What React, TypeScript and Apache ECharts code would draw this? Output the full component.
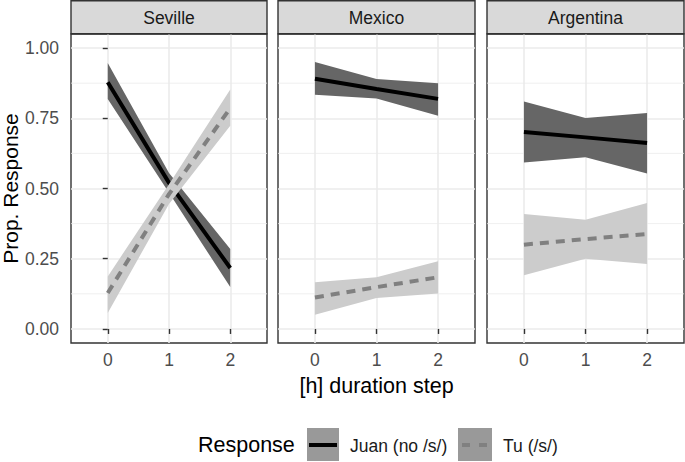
import React, { useEffect, useRef } from "react";
import * as echarts from "echarts";

const facets = ["Seville", "Mexico", "Argentina"];
const steps = [0, 1, 2];
const yTicks = [0, 0.25, 0.5, 0.75, 1];
const yMinorTicks = [0.125, 0.375, 0.625, 0.875];
const yTickLabels = ["0.00", "0.25", "0.50", "0.75", "1.00"];

// Juan (no /s/)
const sevilleJuan = [0.878, 0.52, 0.217];
const sevilleJuanLo = [0.819, 0.485, 0.149];
const sevilleJuanHi = [0.947, 0.555, 0.285];
const mexicoJuan = [0.891, 0.854, 0.819];
const mexicoJuanLo = [0.834, 0.82, 0.759];
const mexicoJuanHi = [0.95, 0.89, 0.875];
const argentinaJuan = [0.701, 0.682, 0.662];
const argentinaJuanLo = [0.593, 0.611, 0.553];
const argentinaJuanHi = [0.81, 0.751, 0.769];

// Tu (/s/)
const sevilleTu = [0.128, 0.48, 0.786];
const sevilleTuLo = [0.057, 0.445, 0.723];
const sevilleTuHi = [0.187, 0.515, 0.852];
const mexicoTu = [0.112, 0.149, 0.184];
const mexicoTuLo = [0.051, 0.11, 0.126];
const mexicoTuHi = [0.166, 0.184, 0.241];
const argentinaTu = [0.3, 0.32, 0.338];
const argentinaTuLo = [0.191, 0.25, 0.231];
const argentinaTuHi = [0.409, 0.389, 0.448];

const juanFits = [sevilleJuan, mexicoJuan, argentinaJuan];
const juanLos = [sevilleJuanLo, mexicoJuanLo, argentinaJuanLo];
const juanHis = [sevilleJuanHi, mexicoJuanHi, argentinaJuanHi];
const tuFits = [sevilleTu, mexicoTu, argentinaTu];
const tuLos = [sevilleTuLo, mexicoTuLo, argentinaTuLo];
const tuHis = [sevilleTuHi, mexicoTuHi, argentinaTuHi];

const FONT = "Liberation Sans, Arial, Helvetica, sans-serif";
const X_MIN = -0.6;
const X_MAX = 2.6;
const Y_MIN = -0.05;
const Y_MAX = 1.05;

const panels = [
  { left: 71, width: 196 },
  { left: 278, width: 197 },
  { left: 487, width: 197 },
];
const PANEL_TOP = 34;
const PANEL_H = 309;
const SMALL = 17.5;
const LARGE = 21.5;

function ribbonSeries(idx: number, lo: number[], hi: number[], fill: string, z: number) {
  return {
    type: "custom",
    xAxisIndex: idx,
    yAxisIndex: idx,
    z,
    silent: true,
    data: steps.map((s, i) => [s, lo[i], hi[i]]),
    encode: { x: 0, y: [1, 2] },
    renderItem: (params: any, api: any) => {
      if (params.dataIndex !== 0) return null;
      const pts: number[][] = [];
      for (let i = 0; i < steps.length; i++) pts.push(api.coord([steps[i], hi[i]]));
      for (let i = steps.length - 1; i >= 0; i--) pts.push(api.coord([steps[i], lo[i]]));
      return { type: "polygon", shape: { points: pts }, style: { fill } };
    },
  };
}

function minorGridSeries(idx: number) {
  return {
    type: "custom",
    xAxisIndex: idx,
    yAxisIndex: idx,
    z: 1,
    silent: true,
    data: yMinorTicks.map((v) => [0, v]),
    encode: { x: 0, y: 1 },
    renderItem: (params: any, api: any) => {
      const v = api.value(1);
      const p1 = api.coord([X_MIN, v]);
      const p2 = api.coord([X_MAX, v]);
      return {
        type: "line",
        shape: { x1: p1[0], y1: p1[1], x2: p2[0], y2: p2[1] },
        style: { stroke: "#ebebeb", lineWidth: 0.8 },
      };
    },
  };
}

export default function App() {
  const ref = useRef<HTMLDivElement>(null);

  useEffect(() => {
    if (!ref.current) return;
    const chart = echarts.init(ref.current, undefined, { renderer: "svg" });

    const grids = panels.map((p) => ({
      left: p.left,
      top: PANEL_TOP,
      width: p.width,
      height: PANEL_H,
      show: true,
      borderColor: "#333333",
      borderWidth: 1.4,
      backgroundColor: "#ffffff",
      containLabel: false,
      outerBoundsMode: "none",
    }));

    const xAxes = panels.map((p, i) => ({
      type: "value",
      gridIndex: i,
      min: X_MIN,
      max: X_MAX,
      axisLine: { show: false },
      axisTick: {
        show: true,
        length: 5,
        customValues: steps,
        lineStyle: { color: "#333333", width: 1.4 },
      },
      axisLabel: {
        show: true,
        customValues: steps,
        color: "#4d4d4d",
        fontSize: SMALL,
        fontFamily: FONT,
        margin: 8,
        formatter: (v: number) => String(v),
      },
      splitLine: { show: true, lineStyle: { color: "#ebebeb", width: 1.6 } },
      name: i === 1 ? "[h] duration step" : "",
      nameLocation: "middle",
      nameGap: 32,
      nameTextStyle: { fontSize: LARGE, color: "#000000", fontFamily: FONT },
    }));

    const yAxes = panels.map((p, i) => ({
      type: "value",
      gridIndex: i,
      min: Y_MIN,
      max: Y_MAX,
      axisLine: { show: false },
      axisTick: {
        show: i === 0,
        length: 5,
        customValues: yTicks,
        lineStyle: { color: "#333333", width: 1.4 },
      },
      axisLabel: {
        show: i === 0,
        customValues: yTicks,
        color: "#4d4d4d",
        fontSize: SMALL,
        fontFamily: FONT,
        margin: 12,
        formatter: (v: number) => yTickLabels[yTicks.indexOf(v)] ?? v.toFixed(2),
      },
      splitLine: { show: true, lineStyle: { color: "#ebebeb", width: 1.6 } },
      name: i === 0 ? "Prop. Response" : "",
      nameLocation: "middle",
      nameRotate: 90,
      nameGap: 49,
      nameTextStyle: { fontSize: 21, color: "#000000", fontFamily: FONT },
    }));

    const series: any[] = [];
    panels.forEach((p, i) => {
      series.push(minorGridSeries(i));
      series.push(ribbonSeries(i, juanLos[i], juanHis[i], "#666666", 2));
      series.push({
        type: "line",
        name: "Juan (no /s/)",
        xAxisIndex: i,
        yAxisIndex: i,
        z: 3,
        symbol: "none",
        silent: true,
        data: steps.map((s, k) => [s, juanFits[i][k]]),
        lineStyle: { color: "#000000", width: 4 },
      });
      series.push(ribbonSeries(i, tuLos[i], tuHis[i], "#cccccc", 4));
      series.push({
        type: "line",
        name: "Tu (/s/)",
        xAxisIndex: i,
        yAxisIndex: i,
        z: 5,
        symbol: "none",
        silent: true,
        data: steps.map((s, k) => [s, tuFits[i][k]]),
        lineStyle: { color: "#808080", width: 4, type: [9, 7] },
      });
    });

    const graphics: any[] = [];
    panels.forEach((p, i) => {
      graphics.push({
        type: "rect",
        shape: { x: p.left, y: 0.7, width: p.width, height: PANEL_TOP - 1 },
        style: { fill: "#d9d9d9", stroke: "#333333", lineWidth: 1.4 },
        z: 10,
      });
      graphics.push({
        type: "text",
        x: p.left + p.width / 2,
        y: 17.5,
        style: {
          text: facets[i],
          fill: "#1a1a1a",
          fontSize: SMALL,
          fontFamily: FONT,
          align: "center",
          verticalAlign: "middle",
        },
        z: 11,
      });
    });

    // legend
    const legY = 445;
    graphics.push({
      type: "text",
      x: 198,
      y: legY,
      style: { text: "Response", fill: "#000000", fontSize: LARGE, fontFamily: FONT, verticalAlign: "middle" },
    });
    graphics.push({ type: "rect", shape: { x: 307, y: 428, width: 32, height: 33 }, style: { fill: "#999999" } });
    graphics.push({
      type: "line",
      shape: { x1: 309, y1: legY, x2: 337, y2: legY },
      style: { stroke: "#000000", lineWidth: 4 },
    });
    graphics.push({
      type: "text",
      x: 350,
      y: legY + 1,
      style: { text: "Juan (no /s/)", fill: "#1a1a1a", fontSize: SMALL, fontFamily: FONT, verticalAlign: "middle" },
    });
    graphics.push({ type: "rect", shape: { x: 458, y: 428, width: 34, height: 33 }, style: { fill: "#999999" } });
    graphics.push({
      type: "line",
      shape: { x1: 462, y1: legY, x2: 489, y2: legY },
      style: { stroke: "#808080", lineWidth: 4, lineDash: [8, 9] },
    });
    graphics.push({
      type: "text",
      x: 503,
      y: legY + 1,
      style: { text: "Tu (/s/)", fill: "#1a1a1a", fontSize: SMALL, fontFamily: FONT, verticalAlign: "middle" },
    });

    chart.setOption({
      animation: false,
      backgroundColor: "#ffffff",
      textStyle: { fontFamily: FONT },
      grid: grids,
      xAxis: xAxes,
      yAxis: yAxes,
      series,
      graphic: graphics,
    });

    return () => chart.dispose();
  }, []);

  return (
    <div
      ref={ref}
      style={{ position: "fixed", left: 0, top: 0, width: 685, height: 462, background: "#fff" }}
    />
  );
}
